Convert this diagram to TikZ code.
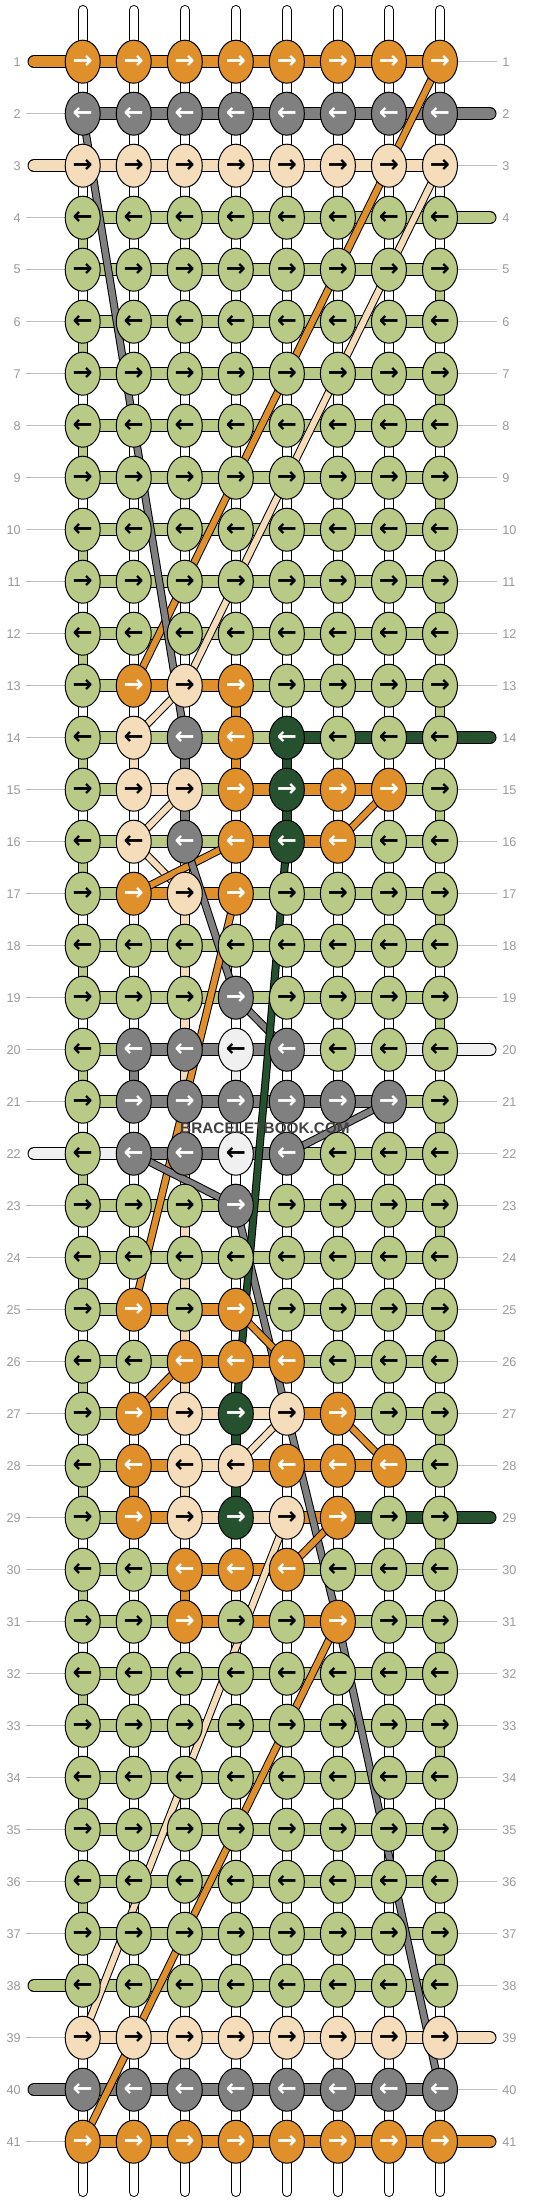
\documentclass[tikz,border=0pt]{standalone}
\usepackage{fontspec}
\setmainfont{Liberation Sans}
\newfontfamily\arrowfont{DejaVu Sans}
\usetikzlibrary{shapes.geometric}

\definecolor{O}{HTML}{E0902A}
\definecolor{K}{HTML}{808080}
\definecolor{A}{HTML}{F5DCBA}
\definecolor{G}{HTML}{B9C986}
\definecolor{E}{HTML}{26512F}
\definecolor{C}{HTML}{F0F0F0}
\definecolor{W}{HTML}{FFFFFF}
\colorlet{aO}{white}
\colorlet{aK}{white}
\colorlet{aE}{white}
\colorlet{aA}{black}
\colorlet{aG}{black}
\colorlet{aC}{black}
\definecolor{labgray}{HTML}{999999}
\definecolor{linegray}{HTML}{BFBFBF}

\pgfdeclarelayer{warp}
\pgfdeclarelayer{bars}
\pgfdeclarelayer{diag}
\pgfsetlayers{warp,bars,diag,main}

\begin{document}
\begin{tikzpicture}[x=0.75pt, y=-0.75pt,
  knot/.style={ellipse, draw=black, line width=0.75pt, fill=#1, text=a#1,
    minimum width=26.25pt, minimum height=32.25pt, inner sep=0pt,
    font=\fontsize{18}{18}\arrowfont\bfseries},
  bar/.style={draw=black, line width=0.75pt, double=#1, double distance=8.25pt},
  stub/.style={bar=#1, line cap=round},
  vseg/.style={draw=black, line width=0.75pt, double=#1, double distance=6pt},
  warpend/.style={vseg=W, line cap=round},
  diag/.style={draw=black, line width=0.75pt, double=#1, double distance=4.5pt},
  lab/.style={text=labgray, inner sep=3.75pt, font=\fontsize{9.5}{9.5}\selectfont},
  labline/.style={draw=linegray, line width=0.75pt},
  stubtext/.style={text=a#1, inner sep=0pt, font=\fontsize{9}{9}\selectfont}]
\useasboundingbox (0,0) rectangle (532,2204);

\foreach \r/\kn/\br in {
1/{O,O,O,O,O,O,O,O}/{O,O,O,O,O,O,O},
2/{K,K,K,K,K,K,K,K}/{K,K,K,K,K,K,K},
3/{A,A,A,A,A,A,A,A}/{A,A,A,A,A,A,A},
4/{G,G,G,G,G,G,G,G}/{G,G,G,G,G,G,G},
5/{G,G,G,G,G,G,G,G}/{G,G,G,G,G,G,G},
6/{G,G,G,G,G,G,G,G}/{G,G,G,G,G,G,G},
7/{G,G,G,G,G,G,G,G}/{G,G,G,G,G,G,G},
8/{G,G,G,G,G,G,G,G}/{G,G,G,G,G,G,G},
9/{G,G,G,G,G,G,G,G}/{G,G,G,G,G,G,G},
10/{G,G,G,G,G,G,G,G}/{G,G,G,G,G,G,G},
11/{G,G,G,G,G,G,G,G}/{G,G,G,G,G,G,G},
12/{G,G,G,G,G,G,G,G}/{G,G,G,G,G,G,G},
13/{G,O,A,O,G,G,G,G}/{G,O,O,G,G,G,G},
14/{G,A,K,O,E,G,G,G}/{G,G,G,G,E,E,E},
15/{G,A,A,O,E,O,O,G}/{G,A,G,O,O,O,G},
16/{G,A,K,O,E,O,G,G}/{G,G,G,O,O,G,G},
17/{G,O,A,O,G,G,G,G}/{G,O,O,G,G,G,G},
18/{G,G,G,G,G,G,G,G}/{G,G,G,G,G,G,G},
19/{G,G,G,K,G,G,G,G}/{G,G,G,G,G,G,G},
20/{G,K,K,C,K,G,G,G}/{G,K,K,K,C,C,C},
21/{G,K,K,K,K,K,K,G}/{G,K,K,K,K,K,G},
22/{G,K,K,C,K,G,G,G}/{C,K,K,K,G,G,G},
23/{G,G,G,K,G,G,G,G}/{G,G,G,G,G,G,G},
24/{G,G,G,G,G,G,G,G}/{G,G,G,G,G,G,G},
25/{G,O,G,O,G,G,G,G}/{G,O,O,G,G,G,G},
26/{G,G,O,O,O,G,G,G}/{G,G,O,O,G,G,G},
27/{G,O,A,E,A,O,G,G}/{G,O,A,A,O,G,G},
28/{G,O,A,A,O,O,O,G}/{G,O,A,O,O,O,G},
29/{G,O,A,E,A,O,G,G}/{G,O,A,A,O,E,E},
30/{G,G,O,O,O,G,G,G}/{G,G,O,O,G,G,G},
31/{G,G,O,G,G,O,G,G}/{G,G,O,O,O,G,G},
32/{G,G,G,G,G,G,G,G}/{G,G,G,G,G,G,G},
33/{G,G,G,G,G,G,G,G}/{G,G,G,G,G,G,G},
34/{G,G,G,G,G,G,G,G}/{G,G,G,G,G,G,G},
35/{G,G,G,G,G,G,G,G}/{G,G,G,G,G,G,G},
36/{G,G,G,G,G,G,G,G}/{G,G,G,G,G,G,G},
37/{G,G,G,G,G,G,G,G}/{G,G,G,G,G,G,G},
38/{G,G,G,G,G,G,G,G}/{G,G,G,G,G,G,G},
39/{A,A,A,A,A,A,A,A}/{A,A,A,A,A,A,A},
40/{K,K,K,K,K,K,K,K}/{K,K,K,K,K,K,K},
41/{O,O,O,O,O,O,O,O}/{O,O,O,O,O,O,O}}{
  \pgfmathsetmacro\y{61.7+52*(\r-1)}
  \foreach \cl [count=\c] in \kn
    \node[knot=\cl] (k-\r-\c) at ({82.7+51.04*(\c-1)},\y) {\ifodd\r\relax→\else←\fi};
  \node[lab, anchor=east] (ll-\r) at (26,\y) {\r};
  \node[lab, anchor=west] (lr-\r) at (497,\y) {\r};
  \begin{pgfonlayer}{bars}
  \foreach \cl [count=\c] in \br {
    \pgfmathtruncatemacro\n{\c+1}
    \draw[bar=\cl] (k-\r-\c.center) -- (k-\r-\n.center);
  }
  \end{pgfonlayer}
}

\begin{pgfonlayer}{warp}
\foreach \c in {1,...,8}{
  \coordinate (t-\c) at ({82.7+51.04*(\c-1)},10);
  \coordinate (b-\c) at ({82.7+51.04*(\c-1)},2192);
  \draw[warpend] (t-\c) -- (k-1-\c.center);
  \draw[warpend] (k-41-\c.center) -- (b-\c);
  \foreach \r in {1,...,40}{
    \pgfmathtruncatemacro\n{\r+1}
    \draw[vseg=W] (k-\r-\c.center) -- (k-\n-\c.center);
  }
}
\foreach \r in {4,...,37}{
  \pgfmathtruncatemacro\n{\r+1}
  \ifodd\r \def\c{8}\else \def\c{1}\fi
  \draw[vseg=G] (k-\r-\c.center) -- (k-\n-\c.center);
}
\foreach \r/\c/\cl in {13/4/O,14/2/A,14/3/K,14/4/O,14/5/E,15/3/K,15/5/E,
  17/3/A,18/3/A,19/3/A,20/2/K,20/3/A,20/4/C,21/3/A,21/4/C,22/3/A,23/3/A,
  24/3/A,25/3/A,26/3/A,27/4/E,28/2/O,28/3/A,28/4/E,30/3/O}{
  \pgfmathtruncatemacro\n{\r+1}
  \draw[vseg=\cl] (k-\r-\c.center) -- (k-\n-\c.center);
}
\end{pgfonlayer}

\begin{pgfonlayer}{bars}
\foreach \r in {2,4,5,...,21,23,24,...,37,39,41}
  \draw[labline] (ll-\r) -- (k-\r-1);
\foreach \r in {1,3,5,6,...,13,15,16,...,19,21,22,...,28,30,31,...,38,40}
  \draw[labline] (k-\r-8) -- (lr-\r);
\foreach \r/\s/\cl in {1/D/O,3/A/A,22/C/C,38/F/G,40/B/K}{
  \node[stubtext=\cl] (sl-\r) at (34,{61.7+52*(\r-1)}) {\s};
  \draw[stub=\cl] (sl-\r.center) -- (k-\r-1.center);
}
\foreach \r/\s/\cl in {2/B/K,4/F/G,14/E/E,20/C/C,29/E/E,39/A/A,41/D/O}{
  \node[stubtext=\cl] (sr-\r) at (490,{61.7+52*(\r-1)}) {\s};
  \draw[stub=\cl] (k-\r-8.center) -- (sr-\r.center);
}
\end{pgfonlayer}

\begin{pgfonlayer}{diag}
\foreach \cl/\ra/\ca/\rb/\cb in {O/1/8/13/2,A/3/8/13/3,K/2/1/14/3,A/13/3/14/2,
  A/15/3/16/2,O/15/7/16/6,A/16/2/17/3,O/17/2/16/4,K/16/3/19/4,O/17/4/25/2,
  K/19/4/20/5,K/21/7/22/5,K/22/2/23/4,K/23/4/31/6,O/25/4/26/5,O/26/3/27/2,
  A/27/5/28/4,O/27/6/28/7,O/29/6/30/5,A/29/5/39/1,O/31/6/41/1,K/31/6/40/8,
  E/16/5/27/4}
  \draw[diag=\cl] (k-\ra-\ca.center) -- (k-\rb-\cb.center);
\end{pgfonlayer}

\node[text=black!75, font=\bfseries\fontsize{11.5}{11.5}\selectfont] (wm) at (265,1128) {BRACELETBOOK.COM};
\end{tikzpicture}
\end{document}
